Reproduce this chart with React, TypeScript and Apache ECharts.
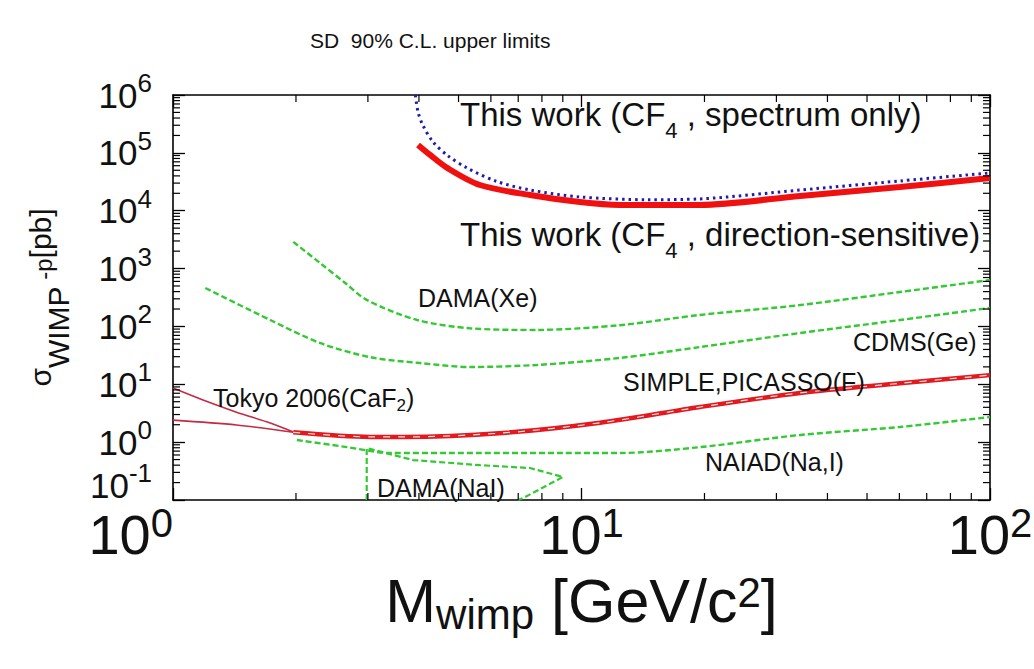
import React, { useEffect, useRef } from 'react';
import * as echarts from 'echarts';

const FONT = "'Liberation Sans', Arial, Helvetica, sans-serif";
const INK = '#111111';

// axis ranges
const X_MIN = 1;
const X_MAX = 100;
const Y_MIN = 0.1;
const Y_MAX = 1e6;

// WIMP mass [GeV/c^2] and SD cross-section limits [pb]
const spectrumOnlyMass = [3.92, 3.98, 4.09, 4.33, 4.69, 5.24, 6.21, 7.48, 9.91, 14.5, 19.5, 34.3, 60.2, 100];
const spectrumOnlySigma = [1.0e6, 5.1e5, 3.0e5, 1.55e5, 9.1e4, 5.5e4, 3.2e4, 2.28e4, 1.73e4, 1.55e4, 1.6e4, 2.28e4, 3.27e4, 4.5e4];

const directionMass = [3.98, 4.26, 4.69, 5.64, 7.48, 9.91, 12.4, 19.5, 34.3, 60.2, 100];
const directionSigma = [1.37e5, 9.2e4, 5.5e4, 2.78e4, 1.87e4, 1.41e4, 1.26e4, 1.26e4, 1.8e4, 2.57e4, 3.68e4];

const damaXeMass = [1.97, 2.29, 2.64, 2.98, 3.96, 5.33, 7.78, 12.4, 19.5, 34.3, 60.2, 100];
const damaXeSigma = [2900, 1250, 564, 287, 129, 93, 87, 105, 158, 234, 394, 634];

const cdmsMass = [1.2, 1.73, 2.29, 3.04, 4.02, 5.33, 7.78, 12.4, 19.5, 34.3, 60.2, 100];
const cdmsSigma = [461, 129, 51.8, 29.4, 23.3, 19.9, 21.6, 28.5, 44, 77, 129, 209];

const tokyoUpperMass = [1.0, 1.18, 1.43, 1.73, 1.97];
const tokyoUpperSigma = [8.6, 5.4, 3.3, 2.14, 1.5];

const tokyoLowerMass = [1.0, 1.43, 1.97];
const tokyoLowerSigma = [2.4, 1.98, 1.48];

const simpleMass = [1.97, 3.04, 3.66, 6.42, 11.1, 19.5, 34.3, 60.2, 100];
const simpleSigma = [1.48, 1.23, 1.23, 1.44, 2.16, 4.05, 7.1, 10.4, 14.4];

const naiadMass = [2.01, 2.67, 3.4, 4.69, 9.01, 12.4, 19.5, 34.3, 60.2, 100];
const naiadSigma = [1.09, 0.82, 0.65, 0.65, 0.65, 0.65, 0.82, 1.33, 1.83, 2.72];

const damaNaIMass = [2.98, 2.98, 3.87, 5.64, 7.48, 9.01, 7.19, 7.0];
const damaNaISigma = [0.1, 0.79, 0.49, 0.4, 0.357, 0.25, 0.108, 0.1];

// minor tick positions of the log axes
const xMinorTicks = [2, 3, 4, 5, 6, 7, 8, 9, 20, 30, 40, 50, 60, 70, 80, 90];
const yDecades = [0.1, 1, 10, 100, 1e3, 1e4, 1e5];
const yMinorSteps = [2, 3, 4, 5, 6, 7, 8, 9];

const zip = (xs: number[], ys: number[]) => xs.map((x, i) => [x, ys[i]]);

const GREEN = '#33c933';

function lineSeries(name: string, data: number[][], color: string, width: number, type: any, z = 3, smooth: any = 0.3) {
  return {
    name,
    type: 'line',
    data,
    showSymbol: false,
    symbol: 'none',
    smooth,
    z,
    lineStyle: { color, width, type },
  };
}

// rich token with explicit box height (top aligned) to place sub/superscripts
const tok = (size: number, h: number, color = INK, key = 'fill') => ({
  fontFamily: FONT,
  fontSize: size,
  [key]: color,
  height: h,
  lineHeight: h,
  verticalAlign: 'top',
});

function annot(text: string, x: number, y: number, size: number, sub: number, subH: number) {
  return {
    type: 'text',
    x,
    y,
    z: 100,
    style: {
      text,
      fontFamily: FONT,
      fontSize: size,
      fill: INK,
      align: 'left',
      verticalAlign: 'top',
      rich: {
        n: tok(size, Math.round(size * 1.25)),
        s: tok(sub, subH),
      },
    },
  };
}

export default function App() {
  const ref = useRef<HTMLDivElement>(null);

  useEffect(() => {
    if (!ref.current) return;
    const chart = echarts.init(ref.current, undefined, { renderer: 'svg' });

    const yMinor: number[][] = [];
    yDecades.forEach((d) => yMinorSteps.forEach((m) => yMinor.push([1, d * m])));

    const frameAxisLine = { show: true, lineStyle: { color: '#000', width: 1.6 } };
    const frameTick = { show: true, inside: true, length: 12, lineStyle: { color: '#000', width: 1.3 } };

    const option: any = {
      animation: false,
      backgroundColor: '#ffffff',
      title: {
        text: 'SD  90% C.L. upper limits',
        left: 310,
        top: 30,
        padding: 0,
        textStyle: { fontFamily: FONT, fontSize: 21, fontWeight: 'normal', color: INK },
      },
      grid: { left: 173, right: 44, top: 95, bottom: 169, containLabel: false, outerBoundsMode: 'none' },
      xAxis: [
        {
          type: 'log',
          logBase: 10,
          min: X_MIN,
          max: X_MAX,
          position: 'bottom',
          axisLine: frameAxisLine,
          axisTick: frameTick,
          splitLine: { show: false },
          axisLabel: {
            margin: 13,
            alignMinLabel: 'right',
            formatter: (v: number) => `{b|10}{s|${Math.round(Math.log10(v))}}`,
            rich: {
              b: tok(56, 42, INK, 'color'),
              s: tok(40, 20, INK, 'color'),
            },
          },
          name: '{m|M}{w|wimp}{m| [GeV/c}{p|2}{m|]}',
          nameLocation: 'middle',
          nameGap: 74,
          nameMoveOverlap: false,
          nameTextStyle: {
            fontFamily: FONT,
            color: INK,
            rich: {
              m: tok(61, 54, INK, 'color'),
              w: tok(42, 81, INK, 'color'),
              p: tok(42, 36, INK, 'color'),
            },
          },
        },
        {
          type: 'log',
          logBase: 10,
          min: X_MIN,
          max: X_MAX,
          position: 'top',
          axisLine: frameAxisLine,
          axisTick: frameTick,
          axisLabel: { show: false },
          splitLine: { show: false },
        },
      ],
      yAxis: [
        {
          type: 'log',
          logBase: 10,
          min: Y_MIN,
          max: Y_MAX,
          splitNumber: 7,
          position: 'left',
          axisLine: frameAxisLine,
          axisTick: frameTick,
          splitLine: { show: false },
          axisLabel: {
            margin: 21,
            verticalAlignMinLabel: 'bottom',
            formatter: (v: number) => `{b|10}{s|${Math.round(Math.log10(v))}}`,
            rich: {
              b: tok(35, 30, INK, 'color'),
              s: tok(26, 6, INK, 'color'),
            },
          },
          name: '{n|σ}{w|WIMP}{q| -p}{n|[pb]}',
          nameLocation: 'middle',
          nameRotate: 90,
          nameGap: 77,
          nameMoveOverlap: false,
          nameTextStyle: {
            fontFamily: FONT,
            color: INK,
            rich: {
              n: tok(30, 40, INK, 'color'),
              w: tok(30, 76, INK, 'color'),
              q: tok(24, 47, INK, 'color'),
            },
          },
        },
        {
          type: 'log',
          logBase: 10,
          min: Y_MIN,
          max: Y_MAX,
          splitNumber: 7,
          position: 'right',
          axisLine: frameAxisLine,
          axisTick: frameTick,
          axisLabel: { show: false },
          splitLine: { show: false },
        },
      ],
      series: [
        lineSeries('DAMA(Xe)', zip(damaXeMass, damaXeSigma), GREEN, 2.4, [6, 3]),
        lineSeries('CDMS(Ge)', zip(cdmsMass, cdmsSigma), GREEN, 2.4, [6, 3]),
        lineSeries('NAIAD(Na,I)', zip(naiadMass, naiadSigma), GREEN, 2.4, [6, 3]),
        lineSeries('DAMA(NaI)', zip(damaNaIMass, damaNaISigma), GREEN, 2.2, [6, 3], 3, false),
        lineSeries('Tokyo 2006 (CaF2) upper', zip(tokyoUpperMass, tokyoUpperSigma), '#c42a44', 1.6, 'solid', 4),
        lineSeries('Tokyo 2006 (CaF2) lower', zip(tokyoLowerMass, tokyoLowerSigma), '#c42a44', 1.6, 'solid', 4),
        lineSeries('SIMPLE,PICASSO(F)', zip(simpleMass, simpleSigma), '#e01a1f', 4.5, 'solid', 5),
        lineSeries('SIMPLE,PICASSO(F) hatch', zip(simpleMass, simpleSigma), '#ffe0e0', 1.2, [7, 8], 6),
        lineSeries('This work (CF4, spectrum only)', zip(spectrumOnlyMass, spectrumOnlySigma), '#1c1cb0', 3, [2.5, 4], 7),
        lineSeries('This work (CF4, direction-sensitive)', zip(directionMass, directionSigma), '#f01010', 6, 'solid', 6),
        {
          name: 'x minor ticks',
          type: 'custom',
          silent: true,
          clip: false,
          z: 20,
          data: xMinorTicks.map((v) => [v, 1]),
          renderItem: (_p: any, api: any) => {
            const v = api.value(0);
            const b = api.coord([v, Y_MIN]);
            const t = api.coord([v, Y_MAX]);
            const st = { stroke: '#000', lineWidth: 1.2 };
            return {
              type: 'group',
              children: [
                { type: 'line', shape: { x1: b[0], y1: b[1], x2: b[0], y2: b[1] - 7 }, style: st },
                { type: 'line', shape: { x1: t[0], y1: t[1], x2: t[0], y2: t[1] + 7 }, style: st },
              ],
            };
          },
        },
        {
          name: 'y minor ticks',
          type: 'custom',
          silent: true,
          clip: false,
          z: 20,
          data: yMinor,
          renderItem: (_p: any, api: any) => {
            const v = api.value(1);
            const l = api.coord([X_MIN, v]);
            const r = api.coord([X_MAX, v]);
            const st = { stroke: '#000', lineWidth: 1.2 };
            return {
              type: 'group',
              children: [
                { type: 'line', shape: { x1: l[0], y1: l[1], x2: l[0] + 7, y2: l[1] }, style: st },
                { type: 'line', shape: { x1: r[0], y1: r[1], x2: r[0] - 7, y2: r[1] }, style: st },
              ],
            };
          },
        },
      ],
      graphic: [
        annot('{n|This work (CF}{s|4}{n| , spectrum only)}', 460, 94, 33, 22, 72),
        annot('{n|This work (CF}{s|4}{n| , direction-sensitive)}', 460, 214, 33, 22, 72),
        annot('{n|DAMA(Xe)}', 418, 282, 25, 17, 46),
        annot('{n|CDMS(Ge)}', 853, 326, 25, 17, 46),
        annot('{n|SIMPLE,PICASSO(F)}', 623, 366, 25, 17, 46),
        annot('{n|Tokyo 2006(CaF}{s|2}{n|)}', 213, 382, 25, 17, 46),
        annot('{n|NAIAD(Na,I)}', 705, 446, 25, 17, 46),
        annot('{n|DAMA(NaI)}', 377, 472, 25, 17, 46),
      ],
    };

    chart.setOption(option);
    return () => chart.dispose();
  }, []);

  return (
    <div
      ref={ref}
      style={{ position: 'absolute', left: 0, top: 0, width: 1034, height: 669, background: '#fff' }}
    />
  );
}
